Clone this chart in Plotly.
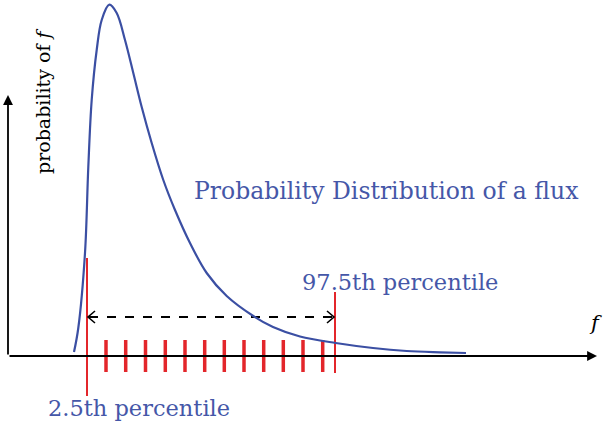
import plotly.graph_objects as go

# distribution curve (f, probability), origin at the axis crossing
curve_f = [66, 70.3, 77, 80.3, 83.7, 88.7, 93.7, 101.3, 108.7, 117, 125.3, 133.7, 143.7, 155.3,
           167, 182, 198.7, 218.7, 245.3, 265, 292, 327.7, 365, 398.7, 432, 458]
curve_p = [4, 28, 103, 189, 256, 306, 336, 351.3, 343, 316, 283, 249, 213, 176,
           146, 113, 83, 60, 40, 29, 19.5, 13, 8, 5, 3.7, 3]

# sampled values drawn as red ticks on the f axis
sample_f = [98, 117.7, 137.5, 157.3, 177, 196.7, 216.3, 236, 255.7, 275.3, 295, 314.7]
tick_half = 16

# percentiles
p_low, p_high = 79, 327
low_line = [-40, 98]
high_line = [-17, 64]
arrow_level = 39

BLUE = "#3b4fa3"
TXT_BLUE = "#4557a8"
RED = "#e3262b"
FONT = "DejaVu Serif"

fig = go.Figure()

# axes with arrows
fig.add_annotation(x=589, y=0, ax=0, ay=0, xref="x", yref="y", axref="x", ayref="y",
                   showarrow=True, arrowhead=2, arrowsize=1.1, arrowwidth=1.8, arrowcolor="black", text="")
fig.add_annotation(x=0, y=261, ax=0, ay=0, xref="x", yref="y", axref="x", ayref="y",
                   showarrow=True, arrowhead=2, arrowsize=1.1, arrowwidth=1.8, arrowcolor="black", text="")

# red sample ticks
for f in sample_f:
    fig.add_trace(go.Scatter(x=[f, f], y=[-tick_half, tick_half], mode="lines",
                             line=dict(color=RED, width=3.5), showlegend=False, hoverinfo="skip"))

# percentile lines
fig.add_trace(go.Scatter(x=[p_low, p_low], y=low_line, mode="lines",
                         line=dict(color=RED, width=2), showlegend=False))
fig.add_trace(go.Scatter(x=[p_high, p_high], y=high_line, mode="lines",
                         line=dict(color=RED, width=2), showlegend=False))

# dashed double arrow between percentiles
fig.add_trace(go.Scatter(x=[p_low + 2, p_high - 2], y=[arrow_level, arrow_level], mode="lines",
                         line=dict(color="black", width=1.8, dash="dash"), showlegend=False))
for tip, d in [(p_low + 1, 1), (p_high - 1, -1)]:
    fig.add_trace(go.Scatter(x=[tip + d * 7, tip, tip + d * 7],
                             y=[arrow_level + 6, arrow_level, arrow_level - 6], mode="lines",
                             line=dict(color="black", width=1.6), showlegend=False))

# the distribution curve
fig.add_trace(go.Scatter(x=curve_f, y=curve_p, mode="lines", cliponaxis=False,
                         line=dict(color=BLUE, width=2.2, shape="spline", smoothing=1.0),
                         showlegend=False))

# labels
fig.add_annotation(x=378, y=165, text="Probability Distribution of a flux", showarrow=False,
                   font=dict(family=FONT, size=23.5, color=TXT_BLUE))
fig.add_annotation(x=392, y=74, text="97.5th percentile", showarrow=False,
                   font=dict(family=FONT, size=22.5, color=TXT_BLUE))
fig.add_annotation(x=131, y=-52, text="2.5th percentile", showarrow=False,
                   font=dict(family=FONT, size=22.5, color=TXT_BLUE))
fig.add_annotation(x=587, y=33, text="<i>f</i>", showarrow=False,
                   font=dict(family=FONT, size=21, color="black"))
fig.add_annotation(x=35, y=255, text="probability of <i>f</i>", showarrow=False, textangle=-90,
                   font=dict(family=FONT, size=19, color="black"))

fig.update_layout(
    width=607, height=425,
    margin=dict(l=0, r=0, t=0, b=0),
    plot_bgcolor="white", paper_bgcolor="white",
    xaxis=dict(range=[-8, 599], visible=False),
    yaxis=dict(range=[-69, 356], visible=False),
)

# drop the default page margin so the figure sits in the window corner
fig.write_html("out.html", config={"displayModeBar": False},
               post_script="document.body.style.margin='0';")
